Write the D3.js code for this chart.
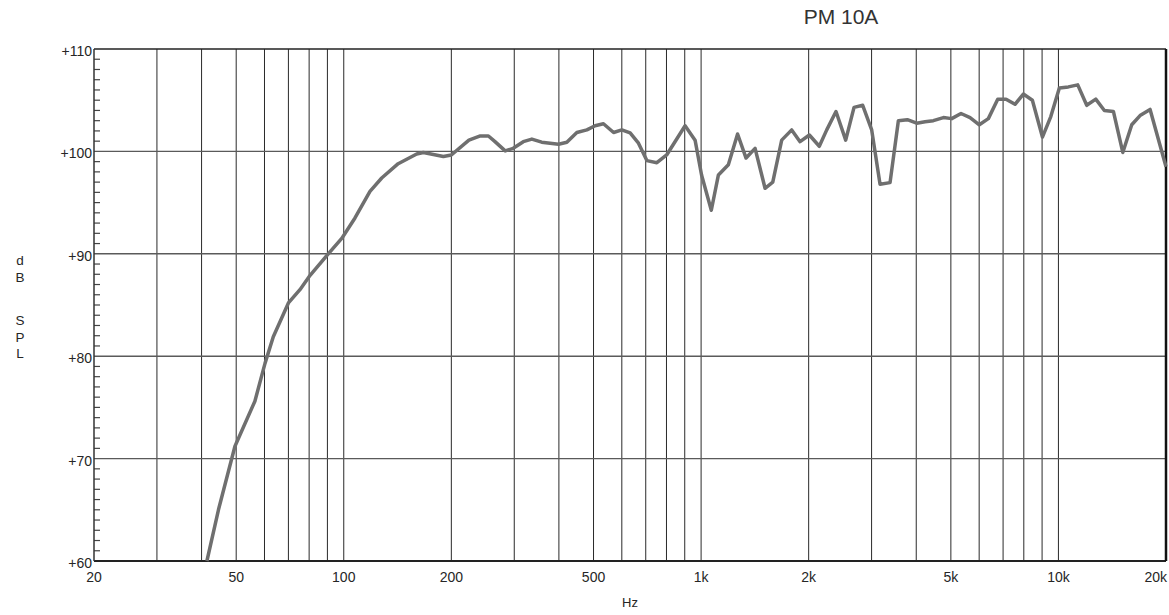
<!DOCTYPE html>
<html>
<head>
<meta charset="utf-8">
<script src="https://cdn.jsdelivr.net/npm/d3@7"></script>
<style>
  body { margin: 0; background: #fff; }
  svg text { font-family: "Liberation Sans", Arial, sans-serif; fill: #262626; }
</style>
</head>
<body>
<svg id="chart" width="1169" height="615"></svg>
<script>
// Data
var freqs = [41.4, 44.6, 49.6, 56.4, 60.2, 63.5, 70, 75.4, 80.5, 90.5, 98.7, 107.5, 118.4, 127.7, 142, 160, 167, 190, 200,
             224, 240, 254, 265, 283, 298, 318, 336, 358, 399, 421, 449, 479, 505, 533, 569, 600, 633, 668, 705, 752, 801, 902, 962,
             1003, 1068, 1118, 1192, 1265, 1336, 1416, 1510, 1587, 1681, 1793, 1892, 2009, 2142, 2247, 2385, 2539, 2679, 2833, 3002,
             3168, 3379, 3565, 3777, 4011, 4234, 4466, 4765, 5027, 5338, 5658, 6006, 6366, 6763, 7135, 7560, 7977, 8455, 9020, 9520,
             10060, 10660, 11325, 12000, 12720, 13445, 14250, 15140, 16040, 16920, 18050, 20000];
var spl = [60, 65.0, 71.2, 75.6, 79.3, 81.9, 85.2, 86.5, 87.9, 90.0, 91.5, 93.5, 96.1, 97.4, 98.8, 99.75, 99.9, 99.5, 99.65,
           101.1, 101.5, 101.5, 100.95, 100.05, 100.3, 100.95, 101.2, 100.9, 100.7, 100.9, 101.85, 102.1, 102.5, 102.7, 101.85, 102.1, 101.8, 100.8, 99.1, 98.9, 99.65, 102.5, 101.1,
           97.7, 94.25, 97.7, 98.7, 101.7, 99.35, 100.3, 96.4, 97.0, 101.1, 102.1, 100.95, 101.6, 100.5, 102.1, 103.9, 101.1, 104.3, 104.5, 102.1,
           96.8, 96.95, 103.0, 103.1, 102.75, 102.9, 103.0, 103.3, 103.2, 103.7, 103.3, 102.6, 103.2, 105.1, 105.1, 104.6, 105.6, 105.0, 101.4, 103.4,
           106.2, 106.3, 106.5, 104.5, 105.1, 104.0, 103.9, 99.9, 102.6, 103.5, 104.1, 98.5];

var gridFreqs = [30, 40, 50, 60, 70, 80, 90, 100, 200, 300, 400, 500, 600, 700, 800, 900,
                 1000, 2000, 3000, 4000, 5000, 6000, 7000, 8000, 9000, 10000];
var xTickValues = [20, 50, 100, 200, 500, 1000, 2000, 5000, 10000, 20000];
var xTickLabels = ["20", "50", "100", "200", "500", "1k", "2k", "5k", "10k", "20k"];
var yTickValues = [60, 70, 80, 90, 100, 110];
var yTickLabels = ["+60", "+70", "+80", "+90", "+100", "+110"];
var yAxisLetters = ["d", "B", "S", "P", "L"];
var title = "PM 10A";

var plotLeft = 94, plotRight = 1166, plotTop = 49, plotBottom = 561;

var svg = d3.select("#chart");

var x = d3.scaleLog().domain([20, 20000]).range([plotLeft, plotRight]);
var y = d3.scaleLinear().domain([60, 110]).range([plotBottom, plotTop]);

// vertical grid
svg.append("g")
    .selectAll("line")
    .data(gridFreqs)
    .enter().append("line")
    .attr("x1", d => x(d)).attr("x2", d => x(d))
    .attr("y1", plotTop).attr("y2", plotBottom)
    .attr("stroke", "#2a2a2a")
    .attr("stroke-width", 1);

// horizontal grid
svg.append("g")
    .selectAll("line")
    .data([70, 80, 90, 100])
    .enter().append("line")
    .attr("x1", plotLeft).attr("x2", plotRight)
    .attr("y1", d => y(d)).attr("y2", d => y(d))
    .attr("stroke", "#5a5a5a")
    .attr("stroke-width", 1.4);

// minor ticks on the left axis, one per dB
svg.append("g")
    .selectAll("line")
    .data(d3.range(61, 110).filter(d => d % 10 != 0))
    .enter().append("line")
    .attr("x1", plotLeft).attr("x2", plotLeft + 6)
    .attr("y1", d => y(d)).attr("y2", d => y(d))
    .attr("stroke", "#444")
    .attr("stroke-width", 1.2);

// frame
svg.append("line").attr("x1", plotLeft).attr("x2", plotRight).attr("y1", plotTop).attr("y2", plotTop)
    .attr("stroke", "#222").attr("stroke-width", 1.5);
svg.append("line").attr("x1", plotLeft).attr("x2", plotRight).attr("y1", plotBottom).attr("y2", plotBottom)
    .attr("stroke", "#222").attr("stroke-width", 2);
svg.append("line").attr("x1", plotLeft).attr("x2", plotLeft).attr("y1", plotTop).attr("y2", plotBottom)
    .attr("stroke", "#333").attr("stroke-width", 1.5);
svg.append("line").attr("x1", plotRight).attr("x2", plotRight).attr("y1", plotTop).attr("y2", plotBottom)
    .attr("stroke", "#111").attr("stroke-width", 2.5);

// response curve
var line = d3.line()
    .x((d, i) => x(freqs[i]))
    .y(d => y(d));

svg.append("path")
    .datum(spl)
    .attr("fill", "none")
    .attr("stroke", "#6f6f6f")
    .attr("stroke-width", 3.5)
    .attr("stroke-linejoin", "round")
    .attr("d", line);

// y labels
svg.append("g")
    .selectAll("text")
    .data(yTickValues)
    .enter().append("text")
    .attr("x", plotLeft - 2)
    .attr("y", d => y(d) + 7)
    .attr("text-anchor", "end")
    .attr("font-size", 14)
    .text((d, i) => yTickLabels[i]);

// x labels
svg.append("g")
    .selectAll("text")
    .data(xTickValues)
    .enter().append("text")
    .attr("x", (d, i) => i == xTickValues.length - 1 ? plotRight + 1 : x(d))
    .attr("y", 582)
    .attr("text-anchor", (d, i) => i == xTickValues.length - 1 ? "end" : "middle")
    .attr("font-size", 14)
    .text((d, i) => xTickLabels[i]);

svg.append("text")
    .attr("x", 630).attr("y", 607)
    .attr("text-anchor", "middle")
    .attr("font-size", 13)
    .text("Hz");

// "dB SPL" written down the left side, one letter per line, gap between words
svg.append("g")
    .selectAll("text")
    .data(yAxisLetters)
    .enter().append("text")
    .attr("x", 20)
    .attr("y", (d, i) => 265 + i * 16.7 + (i >= 2 ? 26.6 : 0))
    .attr("text-anchor", "middle")
    .attr("font-size", 13.5)
    .text(d => d);

svg.append("text")
    .attr("x", 841).attr("y", 24)
    .attr("text-anchor", "middle")
    .attr("font-family", "'Noto Sans', sans-serif")
    .attr("font-size", 21)
    .style("fill", "#333")
    .text(title);
</script>
</body>
</html>
